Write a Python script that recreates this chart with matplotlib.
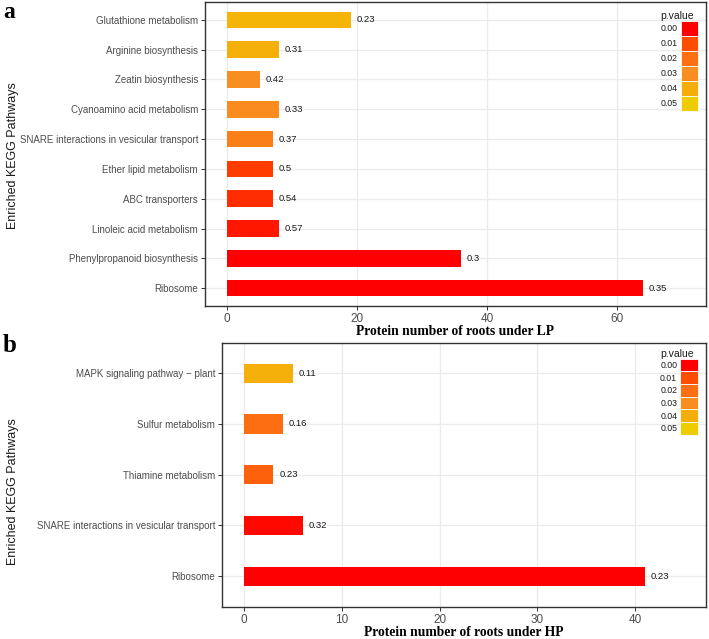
import matplotlib
matplotlib.use("Agg")
import matplotlib.pyplot as plt
from matplotlib.colors import LinearSegmentedColormap, Normalize
from matplotlib.patches import Patch

# ---------------- data ----------------
a_pathways = ["Ribosome", "Phenylpropanoid biosynthesis", "Linoleic acid metabolism",
              "ABC transporters", "Ether lipid metabolism",
              "SNARE interactions in vesicular transport", "Cyanoamino acid metabolism",
              "Zeatin biosynthesis", "Arginine biosynthesis", "Glutathione metabolism"]
a_counts = [64, 36, 8, 7, 7, 7, 8, 5, 8, 19]
a_ratio_labels = ["0.35", "0.3", "0.57", "0.54", "0.5", "0.37", "0.33", "0.42", "0.31", "0.23"]
a_pvalues = [0.0, 0.0, 0.003, 0.006, 0.008, 0.025, 0.029, 0.030, 0.041, 0.042]

b_pathways = ["Ribosome", "SNARE interactions in vesicular transport",
              "Thiamine metabolism", "Sulfur metabolism", "MAPK signaling pathway \u2212 plant"]
b_counts = [41, 6, 3, 4, 5]
b_ratio_labels = ["0.23", "0.32", "0.23", "0.16", "0.11"]
b_pvalues = [0.0, 0.001, 0.016, 0.019, 0.041]

legend_levels = [0.00, 0.01, 0.02, 0.03, 0.04, 0.05]
legend_labels = ["0.00", "0.01", "0.02", "0.03", "0.04", "0.05"]
scale_colors = ["#FF0000", "#FF4D00", "#FC6F12", "#F98E20", "#F5AD0A", "#EFCC00"]

# ---------------- style ----------------
cmap = LinearSegmentedColormap.from_list(
    "pv", list(zip([l / 0.05 for l in legend_levels], scale_colors)))
norm = Normalize(0.0, 0.05)

W, H = 709, 639
fig = plt.figure(figsize=(W / 100, H / 100), dpi=100)
sans = "Liberation Sans"
serif = "Liberation Serif"
tick_gray = "#4D4D4D"
grid_gray = "#EBEBEB"


def draw_panel(rect, cats, counts, labels, pvals, bar_h, xlim, xticks,
               xlabel, legend_h, ylabel_y, leg_dy):
    ax = fig.add_axes(rect)
    y = list(range(len(cats)))
    colors = [cmap(norm(p)) for p in pvals]
    ax.barh(y, counts, height=bar_h, color=colors, zorder=3)
    span = xlim[1] - xlim[0]
    for yi, c, lab in zip(y, counts, labels):
        ax.text(c + span * 0.012, yi, lab, va="center", ha="left",
                fontsize=6.8, family=sans, color="#1A1A1A", zorder=4)
    ax.set_xlim(*xlim)
    ax.set_ylim(-0.6, len(cats) - 0.4)
    ax.set_xticks(xticks)
    ax.set_xticklabels([str(t) for t in xticks], fontsize=8.5, family=sans, color=tick_gray)
    ax.set_yticks(y)
    ax.set_yticklabels(cats, fontsize=7, family=sans, color=tick_gray)
    ax.tick_params(axis="both", length=3, width=0.7, color="#333333", pad=2)
    ax.grid(True, color=grid_gray, linewidth=0.9, zorder=0)
    ax.set_axisbelow(True)
    for s in ax.spines.values():
        s.set_color("#333333")
        s.set_linewidth(1.0)
    ax.set_xlabel(xlabel, fontsize=9.8, family=serif, fontweight="bold", labelpad=0)
    ax.set_ylabel("Enriched KEGG Pathways", fontsize=9, family=sans, color="#1A1A1A")
    ax.yaxis.set_label_coords(19 / W, 1 - ylabel_y / H, transform=fig.transFigure)
    handles = [Patch(facecolor=cmap(norm(l)), edgecolor="white", linewidth=0.6)
               for l in legend_levels]
    leg = ax.legend(handles, legend_labels, title="p.value", loc="upper right",
                    bbox_to_anchor=(1 - 8 / (rect[2] * W), 1 - leg_dy / (rect[3] * H)),
                    markerfirst=False, frameon=False, fontsize=6.3,
                    title_fontsize=7.5, handlelength=2.0, handleheight=legend_h,
                    handletextpad=0.35, labelspacing=0.0, borderaxespad=0.0,
                    borderpad=0.0, alignment="left")
    for t in leg.get_texts():
        t.set_family(sans)
        t.set_color("#1A1A1A")
    leg.get_title().set_family(sans)
    leg.get_title().set_color("#1A1A1A")
    return ax


# panel a
ax_a = draw_panel([205 / W, 1 - 306 / H, 501 / W, 304 / H],
                  a_pathways, a_counts, a_ratio_labels, a_pvalues, 0.56,
                  (-3.4, 73.7), [0, 20, 40, 60],
                  "Protein number of roots under LP", 2.25, 156, 9)
# panel b
ax_b = draw_panel([222 / W, 1 - 606.7 / H, 483.7 / W, 264 / H],
                  b_pathways, b_counts, b_ratio_labels, b_pvalues, 0.38,
                  (-2.25, 47.2), [0, 10, 20, 30, 40],
                  "Protein number of roots under HP", 1.85, 492, 6)

fig.text(3 / W, 1 - 2 / H, "a", fontsize=17, family=serif, fontweight="bold",
         va="top", ha="left")
fig.text(3 / W, 1 - 334 / H, "b", fontsize=18, family=serif, fontweight="bold",
         va="top", ha="left")

fig.savefig("out.png", dpi=100)
